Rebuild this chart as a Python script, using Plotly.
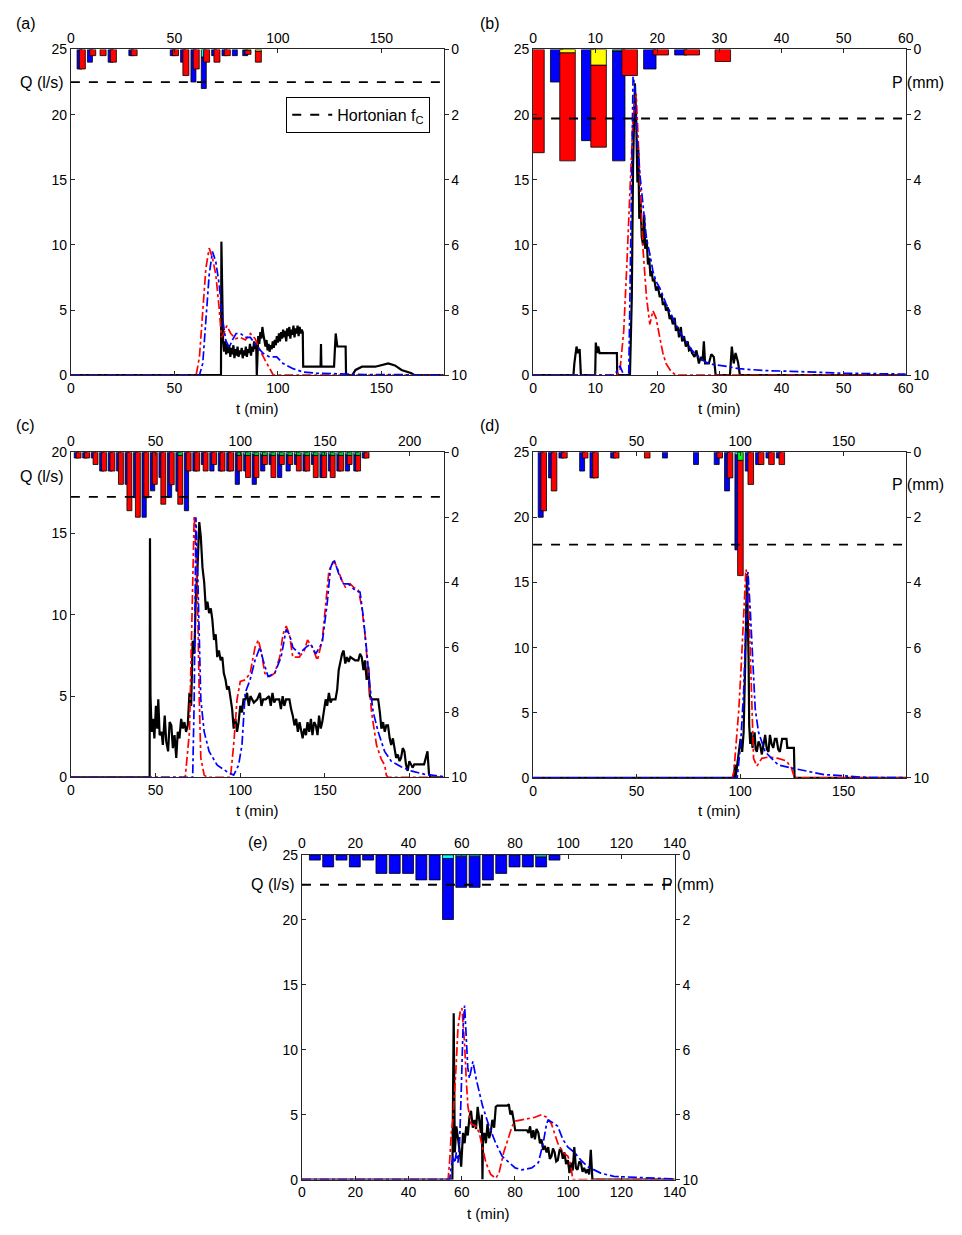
import plotly.graph_objects as go

# ======================= DATA =======================
# ---- panel (a) ----
a_bins = [3, 8, 13, 18, 23, 28, 33, 38, 43, 48, 53, 58, 63, 68, 73, 78, 83, 88]
a_p_blue = [0.6, 0.39, 0, 0.39, 0, 0.19, 0, 0, 0, 0.19, 0.39, 1.0, 0.97, 0.19, 0.19, 0.19, 0.16, 0]
a_p_blue_top = [0, 0, 0, 0, 0, 0, 0, 0, 0, 0, 0, 0, 0.23, 0, 0, 0, 0.03, 0]
a_p_red = [0.6, 0.19, 0.19, 0.39, 0, 0.19, 0, 0, 0, 0.19, 0.8, 0.6, 0.39, 0.39, 0.19, 0, 0.12, 0.34]
a_p_red_top = [0, 0, 0, 0, 0, 0, 0, 0, 0, 0, 0, 0, 0, 0, 0, 0, 0.03, 0.05]
a_fc = 22.5
a_obs_t = [0, 72.5, 72.7, 73.1,
           73.5, 74.0, 74.5, 75.0, 75.5, 76.0, 76.5, 77.0, 77.5, 78.0, 78.5, 79.0, 79.5, 80.0, 80.5, 81.0, 81.5,
           82.0, 82.5, 83.0, 83.5, 84.0, 84.5, 85.0, 85.5, 86.0, 86.5, 87.0, 87.5, 88.0, 88.5, 89.0, 89.5,
           89.8, 90.1,
           90.5, 91.0, 91.5, 92.0, 92.5, 93.0, 93.5, 94.0, 94.5, 95.0, 95.5, 96.0, 96.5, 97.0, 97.5, 98.0,
           98.5, 99.0, 99.5, 100.0, 100.5, 101.0, 101.5, 102.0, 102.5, 103.0, 103.5, 104.0, 104.5, 105.0,
           105.5, 106.0, 106.5, 107.0, 107.5, 108.0, 108.5, 109.0, 109.5, 110.0, 110.5, 111.0, 111.5, 112.0,
           112.2, 120.6, 120.8, 121.0, 127.1, 127.9, 128.7, 132.7, 132.9, 135.9, 137.5, 140.6, 147.0, 153.3,
           156.5, 159.7, 164.5, 166.0, 180]
a_obs_q = [0, 0, 10.25, 6.0,
           2.7, 1.8, 2.6, 1.6, 2.4, 1.7, 2.3, 1.4, 2.1, 1.6, 2.3, 1.3, 2.0, 1.5, 2.2, 1.4, 1.9,
           1.6, 2.1, 1.3, 1.9, 1.5, 2.2, 1.4, 2.0, 1.7, 2.4, 1.5, 2.2, 1.8, 2.6, 2.0, 2.5,
           0, 2.7,
           3.0, 2.4, 3.3, 2.8, 3.7, 3.1, 2.6, 2.2, 2.7, 1.9, 2.4, 1.8, 2.3, 2.0, 2.6, 2.1,
           2.7, 2.3, 3.0, 2.5, 3.2, 2.6, 3.3, 2.8, 3.5, 2.9, 3.4, 2.6, 3.6, 3.0,
           3.7, 2.8, 3.5, 3.1, 3.8, 2.9, 3.6, 3.2, 3.8, 3.0, 3.7, 3.2, 3.5, 3.3,
           0.65, 0.65, 2.4, 0.65, 0.65, 3.2, 2.2, 2.2, 0, 0, 0.4, 0.65, 0.65, 0.9,
           0.75, 0.4, 0.15, 0, 0]
a_sim1_t = [0, 60.5, 62.1, 63.7, 65.2, 66.8, 68.4, 70.0, 71.6, 72.7, 73.9, 75.3, 77.2, 79.5, 81.9, 84.3,
            86.7, 89.0, 91.4, 93.8, 96.2, 97.8, 180]
a_sim1_q = [0, 0, 1.4, 5.2, 8.2, 9.75, 9.0, 7.7, 5.2, 2.9, 3.2, 3.8, 3.2, 2.8, 2.9, 2.7,
            3.2, 2.8, 1.9, 1.15, 0.4, 0, 0]
a_sim2_t = [0, 62.1, 63.7, 65.2, 66.8, 68.4, 70.0, 71.6, 73.2, 74.8, 76.4, 78.0, 79.8, 81.9, 84.3, 86.7,
            89.8, 93.0, 96.0, 99.4, 102.5, 107.3, 112.1, 118.4, 127, 142, 180]
a_sim2_q = [0, 0, 0.9, 3.9, 7.7, 9.5, 8.7, 7.0, 4.4, 2.7, 2.1, 2.7, 3.2, 3.2, 2.9, 2.9,
            2.2, 1.66, 1.4, 1.4, 0.9, 0.5, 0.25, 0.15, 0.1, 0.05, 0.02]

# ---- panel (b) ----
b_bins = [-2.2, 2.8, 7.8, 12.8, 17.8, 22.8, 27.8]
b_p_blue = [0, 1.0, 2.8, 3.37, 0.6, 0.17, 0]
b_p_blue_top = [0, 0, 0, 0.05, 0, 0, 0]
b_p_red = [3.17, 3.32, 2.52, 0.8, 0.17, 0.17, 0.37]
b_p_red_top = [0, 0.1, 0.48, 0, 0, 0, 0]
b_fc = 19.7
b_obs_t = [0, 6.5, 6.65, 7.0, 7.2, 7.5, 7.7, 10.0, 10.1, 10.3, 10.5, 10.7, 13.5, 13.55, 15.6, 15.9, 16.1,
           16.4, 16.6, 16.8, 16.95, 17.1, 17.3, 17.5, 17.7, 17.9, 18.05, 18.3, 18.5, 18.7, 18.9, 19.1, 19.3,
           19.5, 19.8, 20.1, 20.4, 20.7, 20.9, 21.2, 21.4, 21.7, 22.0, 22.2, 22.5, 22.8, 23.0, 23.3, 23.5,
           23.8, 24.0, 24.3, 24.6, 24.9, 25.1, 25.4, 25.6, 26.0, 26.3, 26.7, 27.0, 27.3, 27.5, 27.7, 28.3,
           28.7, 29.1, 29.4, 31.7, 32.0, 32.3, 32.6, 33.0, 33.3, 60]
b_obs_q = [0, 0, 0.9, 2.2, 1.7, 2.0, 0, 0, 2.5, 1.7, 2.2, 1.7, 1.7, 0, 0, 6.0, 16.1,
           22.4, 19.8, 14.8, 17.3, 12.0, 13.5, 10.6, 10.0, 12.3, 9.7, 10.4, 8.5, 9.0, 7.6, 8.0, 7.2,
           7.4, 6.5, 6.8, 6.0, 6.2, 5.4, 5.6, 4.95, 5.2, 4.3, 4.6, 3.9, 4.4, 3.4, 3.7, 2.9,
           3.7, 2.6, 3.0, 2.2, 2.6, 1.9, 2.0, 1.7, 1.4, 1.9, 0.9, 1.4, 1.1, 2.6, 0.9, 0.9,
           1.6, 1.4, 0, 0, 2.2, 0.9, 1.7, 1.0, 0, 0]
b_sim1_t = [0, 13.5, 14.0, 14.6, 15.1, 15.6, 16.1, 16.6, 16.9, 17.2, 17.7, 18.26, 18.8, 19.3, 19.8,
            20.4, 20.9, 21.4, 22.2, 23.0, 60]
b_sim1_q = [0, 0, 0.4, 3.4, 8.5, 14.8, 19.8, 21.6, 18.6, 14.8, 9.7, 6.0, 3.9, 4.95, 4.4,
            2.9, 1.7, 0.9, 0.3, 0, 0]
b_sim2_t = [0, 13.0, 13.5, 14.0, 14.6, 15.4, 15.6, 15.9, 16.1, 16.4, 16.7, 17.2, 17.7, 18.26, 18.8,
            19.3, 19.8, 20.4, 21.4, 22.5, 23.5, 24.6, 25.6, 26.7, 27.8, 29.1, 30.9, 33.1, 37.3, 41.5,
            50, 60]
b_sim2_q = [0, 0, 0.3, 0.7, 0, 0, 6.0, 16.1, 22.9, 22.2, 18.6, 15.4, 12.8, 10.5, 9.3,
            8.0, 7.2, 6.7, 5.5, 4.4, 3.4, 2.6, 1.9, 1.4, 1.0, 0.8, 0.7, 0.5, 0.35, 0.3,
            0.15, 0.08]

# ---- panel (c) ----
c_bins = [2, 7, 12, 17, 22, 27, 32, 37, 42, 47, 52, 57, 62, 67, 72, 77, 82, 87, 92, 97, 102, 107,
          112, 117, 122, 127, 132, 137, 142, 147, 152, 157, 162, 167, 172]
c_p_blue = [0.18, 0.18, 0.18, 0.58, 0.58, 0.58, 0.99, 1.4, 2.0, 1.19, 0.78, 1.39, 1.2, 1.8, 0.58, 0.38,
            0.58, 0.58, 0.58, 0.99, 0.5, 0.92, 0.5, 0.3, 0.7, 0.5, 0.3, 0.5, 0.3, 0.7, 0.5, 0.5,
            0.5, 0.5, 0.18]
c_p_blue_top = [0, 0, 0, 0, 0, 0, 0, 0, 0, 0, 0, 0, 0, 0, 0, 0, 0, 0, 0, 0, 0.08, 0.07, 0.08, 0.08,
                0.08, 0.08, 0.08, 0.08, 0.08, 0.08, 0.08, 0.08, 0.08, 0.08, 0]
c_p_red = [0.18, 0.18, 0.38, 0.58, 0.58, 0.99, 1.8, 2.0, 1.4, 0.99, 1.6, 1.0, 1.5, 0.58, 0.58, 0.58,
           0.38, 0.58, 0.58, 0.48, 0.68, 0.68, 0.28, 0.68, 0.28, 0.28, 0.48, 0.48, 0.68, 0.68, 0.68, 0.48,
           0.28, 0.48, 0.18]
c_p_red_top = [0, 0, 0, 0, 0, 0, 0, 0, 0, 0, 0, 0, 0.1, 0, 0, 0, 0, 0, 0, 0.1, 0.1, 0.1, 0.1, 0.1,
               0.1, 0.1, 0.1, 0.1, 0.1, 0.1, 0.1, 0.1, 0.1, 0.1, 0]
c_fc = 17.25
c_obs_t = [0, 46.5, 46.7, 47.0, 47.7, 48.5, 49.3, 50.2, 51.0, 51.6, 52.4, 53.5, 54.3, 55.4, 56.3, 57.4,
           58.3, 59.3, 60.2, 61.2, 62.2, 63.1, 64.1, 65.1, 66.1, 67.0, 68.0, 69.0, 70.0, 71.0, 71.9, 72.9,
           73.8, 74.8, 75.8, 76.7, 77.7, 78.7, 79.7, 80.6, 81.6, 82.6, 83.5, 84.5, 85.5, 86.4, 87.4, 88.4,
           89.4, 90.3, 91.3, 92.2, 93.2, 94.2, 95.2, 96.1, 97.1, 98.1, 99.0, 100.0, 101.0, 101.9, 103, 104,
           105, 106, 107, 108, 110, 111.6, 112.5, 113.5, 115, 117, 118, 119, 120, 121, 123, 124, 125, 126,
           127, 129, 130, 131, 132, 133, 134, 135, 136.8, 137.8, 138.8, 139.7, 140.7, 141.7, 142.6, 143.6,
           144.6, 145.6, 146.5, 147.5, 148.4, 149.4, 150.4, 151.3, 152.3, 153.3, 154.2, 156.2, 157.2, 158.1,
           159.1, 160.1, 161.0, 162.0, 163.0, 164.0, 165.0, 167.8, 169.7, 170.7, 171.7, 172.7, 173.6, 174.6,
           175.6, 176.5, 177.5, 181.4, 182.4, 183.3, 184.3, 185.3, 186.2, 187.2, 188.2, 189.1, 190.1, 191.1,
           192.0, 193.0, 194.0, 194.9, 195.9, 196.9, 197.8, 198.8, 199.8, 200.8, 201.7, 202.7, 208.5, 209.5,
           210.5, 211.4, 212.4, 220]
c_obs_q = [0, 0, 14.7, 5.0, 2.8, 3.6, 2.4, 4.4, 3.0, 4.8, 2.6, 2.8, 2.0, 3.8, 2.2, 1.6,
           3.4, 3.2, 1.8, 2.6, 1.2, 2.8, 2.4, 3.6, 3.0, 3.4, 2.8, 3.2, 5.2, 4.4, 8.4, 7.6,
           11.2, 13.0, 15.7, 14.8, 12.9, 12.0, 10.3, 10.8, 10.1, 10.4, 9.7, 8.45, 8.8, 7.4, 7.8, 7.2,
           7.4, 6.4, 6.0, 5.4, 5.6, 4.8, 4.2, 3.0, 3.6, 2.8, 3.4, 4.4, 4.0, 4.8, 4.8, 5.2,
           4.4, 5.0, 4.8, 4.6, 4.8, 5.2, 4.4, 4.8, 4.8, 5.0, 4.4, 5.2, 4.6, 4.8, 4.8, 4.2, 5.0, 4.4,
           4.8, 4.8, 4.2, 3.8, 3.2, 3.6, 2.8, 3.4, 2.4, 3.0, 2.6, 3.4, 2.8, 3.6, 2.6, 3.4,
           3.2, 2.6, 3.8, 3.0, 3.4, 4.2, 4.8, 4.4, 5.2, 4.6, 4.8, 4.8, 5.4, 6.6,
           7.1, 7.6, 7.8, 7.0, 7.4, 7.1, 7.4, 7.2, 7.2, 7.6, 7.4, 6.6, 7.2, 6.0,
           6.8, 5.0, 4.8, 4.8, 4.0, 3.0, 3.4, 2.8, 3.2, 3.2, 2.4, 2.0, 2.4, 1.6,
           1.2, 1.4, 1.0, 1.2, 1.8, 1.6, 0.8, 0.4, 1.0, 0.8, 0.6, 0.8, 0.8, 1.2,
           1.6, 0.2, 0, 0]
c_sim1_t = [0, 67.5, 70.0, 70.9, 71.9, 72.8, 73.8, 74.8, 75.8, 76.7, 78.7, 80.6, 94.2, 96.1, 98.1, 100.0,
            102.9, 105.8, 108.7, 110.7, 112.6, 114.5, 117.4, 120.3, 123.3, 125.2, 127.1, 129.0, 131.0, 134.8,
            137.8, 139.7, 142.6, 145.5, 148.4, 150.4, 152.3, 155.3, 157.2, 160.0, 162.0, 164.9, 166.8, 169.7,
            171.7, 173.6, 175.6, 177.5, 180.4, 183.3, 185.3, 186.2, 187.2, 220]
c_sim1_q = [0, 0, 2.8, 6.8, 10.9, 16.1, 13.9, 10.9, 4.8, 1.2, 0.14, 0, 0, 2.0, 4.8, 5.9,
            6.0, 6.4, 8.0, 8.45, 7.6, 6.4, 6.2, 6.4, 7.4, 8.8, 9.3, 8.8, 7.4, 7.4,
            7.8, 8.45, 8.0, 7.2, 8.45, 10.9, 12.7, 13.3, 12.9, 12.1, 11.7, 11.9, 11.7, 11.5,
            10.5, 8.8, 6.4, 4.0, 2.0, 1.1, 0.75, 0.14, 0, 0]
c_sim2_t = [0, 71.9, 72.8, 73.3, 73.8, 74.8, 75.8, 76.7, 78.7, 81.6, 86.4, 92.2, 96.1, 99.0, 101.0, 102.9,
            105.8, 108.7, 111.6, 113.5, 116.4, 120.3, 124.1, 127.1, 129.0, 131.0, 134.8, 138.7, 141.6, 144.6,
            148.4, 151.3, 153.3, 155.3, 158.2, 161.0, 164.0, 167.8, 170.7, 172.6, 174.6, 176.5, 178.5, 181.4,
            185.2, 189.1, 194.9, 200.8, 208.5, 216.3, 220]
c_sim2_q = [0, 0, 4.8, 12.0, 16.0, 12.9, 8.8, 4.8, 2.8, 1.6, 0.75, 0.35, 0.14, 0.75, 2.0, 5.2,
            6.0, 7.2, 8.0, 7.2, 6.2, 6.4, 7.4, 9.1, 8.8, 8.0, 7.6, 8.0, 8.2, 7.6,
            8.3, 10.7, 12.9, 13.4, 12.5, 11.9, 11.9, 11.5, 11.4, 9.9, 7.8, 5.6, 4.0, 2.8,
            1.6, 1.0, 0.65, 0.4, 0.2, 0.1, 0.05]

# ---- panel (d) ----
d_bins = [2.5, 7.5, 12.5, 17.5, 22.5, 27.5, 32.5, 37.5, 42.5, 47.5, 52.5, 57.5, 62.5, 67.5, 72.5, 77.5,
          82.5, 87.5, 92.5, 97.5, 102.5, 107.5, 112.5, 117.5]
d_p_blue = [2.0, 0.79, 0.18, 0, 0.58, 0.79, 0, 0.18, 0, 0, 0, 0, 0.18, 0, 0, 0.38,
            0, 0.38, 1.19, 2.92, 0.58, 0.38, 0.18, 0.18]
d_p_blue_top = [0, 0, 0, 0, 0, 0, 0, 0, 0, 0, 0, 0, 0, 0, 0, 0, 0, 0, 0, 0.08, 0, 0, 0, 0]
d_p_red = [1.8, 1.19, 0.18, 0, 0.18, 0.79, 0, 0.18, 0, 0, 0.18, 0, 0, 0, 0, 0,
           0, 0.18, 0.79, 3.54, 0.99, 0.38, 0.38, 0.38]
d_p_red_top = [0, 0, 0, 0, 0, 0, 0, 0, 0, 0, 0, 0, 0, 0, 0, 0, 0, 0, 0, 0.25, 0, 0, 0, 0]
d_fc = 17.9
d_obs_t = [0, 97.0, 97.5, 97.8, 99.4, 100.2, 101.0, 101.7, 102.5, 103.3, 104.1, 104.4, 104.9, 105.4, 106.0,
           106.5, 107.0, 107.5, 108.1, 108.9, 109.7, 110.5, 111.3, 112.1, 112.9, 113.7, 114.4, 115.2, 116.0,
           116.8, 117.6, 118.4, 119.2, 119.8, 120.3, 122.4, 122.8, 126.0, 126.3, 180]
d_obs_q = [0, 0, 1.0, 0, 2.0, 3.0, 2.0, 3.5, 9.1, 15.65, 9.1, 4.0, 2.6, 3.5, 2.3,
           3.2, 3.5, 2.2, 2.0, 2.8, 2.5, 1.8, 2.6, 3.3, 2.2, 2.0, 3.3, 2.6, 2.3,
           3.0, 3.0, 2.2, 2.0, 2.8, 3.0, 3.0, 2.3, 2.3, 0, 0]
d_sim1_t = [0, 96.2, 97.0, 98.3, 99.4, 100.7, 101.7, 102.8, 103.8, 104.9, 105.7, 106.5, 108.1, 110.5, 113.7,
            118.4, 122.4, 124.8, 126.3, 180]
d_sim1_q = [0, 0, 0.5, 3.0, 5.3, 9.1, 12.9, 16.0, 15.4, 9.1, 4.0, 1.5, 0.9, 1.5, 1.6,
            1.5, 1.3, 0.76, 0, 0]
d_sim2_t = [0, 98.6, 100.2, 101.7, 102.8, 103.8, 104.9, 105.7, 107.3, 108.9, 112.1, 115.2, 118.4, 124.8,
            132.7, 140.6, 148.6, 156.5, 161.3, 180]
d_sim2_q = [0, 0, 2.5, 6.6, 11.6, 15.8, 12.9, 10.4, 5.3, 3.5, 2.0, 1.5, 1.0, 0.76,
            0.5, 0.25, 0.18, 0.1, 0.03, 0.02]

# ---- panel (e) ----
e_bins = [2.8, 7.8, 12.8, 17.8, 22.8, 27.8, 32.8, 37.8, 42.8, 47.8, 52.8, 57.8, 62.8, 67.8, 72.8, 77.8,
          82.8, 87.8, 92.8]
e_p_blue = [0.16, 0.37, 0.16, 0.37, 0.16, 0.57, 0.57, 0.57, 0.77, 0.77, 1.88, 0.96, 0.96, 0.77, 0.57, 0.37,
            0.37, 0.31, 0.16]
e_p_blue_top = [0, 0, 0, 0, 0, 0, 0, 0, 0, 0, 0.11, 0.04, 0.04, 0, 0, 0, 0, 0.06, 0]
e_fc = 22.7
e_obs_t = [0, 56.5, 57.0, 57.4, 58.0, 58.6, 59.2, 59.8, 60.5, 61.1, 61.7, 62.3, 62.9, 63.5, 64.2, 64.8,
           65.4, 66.0, 66.6, 67.2, 67.6, 67.8, 68.0, 68.5, 69.1, 69.7, 70.3, 70.9, 71.5, 72.2, 72.8, 73.4,
           77.1, 77.7, 78.3, 78.9, 79.5, 80.1, 84.5, 85.1, 85.7, 86.3, 86.9, 87.5, 88.1, 88.8, 89.4, 90.0,
           90.6, 91.2, 91.9, 92.5, 93.1, 93.7, 94.3, 94.9, 95.5, 96.1, 96.8, 97.4, 98.0, 98.6, 99.2, 99.9,
           100.5, 101.1, 101.7, 102.3, 102.9, 103.5, 104.2, 104.8, 105.4, 106.0, 106.7, 107.3, 107.9, 108.5,
           109.1, 140]
e_obs_q = [0, 0, 12.8, 2.1, 4.1, 3.3, 2.3, 1.0, 3.6, 2.8, 4.1, 3.4, 4.8, 5.3, 4.0, 4.6,
           3.9, 5.6, 4.6, 3.6, 5.0, 0, 3.0, 3.6, 2.8, 4.3, 3.2, 3.6, 4.6, 4.0, 5.6, 5.7,
           5.7, 5.8, 5.0, 5.3, 4.6, 3.8, 3.8, 3.6, 4.1, 3.2, 3.8, 3.1, 3.9, 3.6, 2.8, 3.1,
           2.3, 2.6, 2.1, 2.5, 1.6, 1.8, 2.4, 2.1, 1.4, 1.5, 2.3, 2.3, 1.6, 2.1, 1.2, 1.5,
           0.5, 1.3, 0.7, 2.5, 0.9, 0.76, 1.4, 1.27, 0.6, 0.9, 0.5, 0.8, 0.4, 2.3,
           0, 0]
e_sim1_t = [0, 54.9, 55.5, 56.1, 56.8, 57.4, 58.0, 58.6, 59.5, 60.1, 61.1, 61.7, 62.3, 63.5, 65.4, 66.6,
            67.8, 69.1, 70.9, 72.8, 74.0, 75.8, 77.7, 78.9, 80.1, 82.6, 85.1, 87.5, 90.0, 91.9, 93.7, 94.9,
            96.1, 98.0, 99.9, 101.1, 101.7, 140]
e_sim1_q = [0, 0, 1.5, 3.6, 4.8, 6.6, 9.1, 11.7, 13.0, 13.2, 10.4, 7.8, 5.7, 4.3, 4.1, 3.6,
            2.5, 1.3, 0.4, 0.1, 0.5, 2.1, 3.3, 4.1, 4.5, 4.6, 4.7, 4.8, 5.0, 4.8, 4.3, 3.6,
            2.8, 2.1, 1.8, 1.0, 0, 0]
e_sim2_t = [0, 55.5, 56.1, 56.8, 57.4, 58.0, 58.6, 59.2, 59.8, 60.5, 61.1, 61.7, 62.3, 62.9, 64.2, 65.4,
            67.8, 70.3, 72.8, 75.2, 77.7, 80.1, 82.6, 86.3, 88.8, 90.6, 91.9, 92.5, 94.9, 96.1, 98.0, 99.9,
            102.3, 104.8, 107.3, 112.2, 117.1, 122.0, 129.4, 139.3, 140]
e_sim2_q = [0, 0, 1.0, 1.8, 1.3, 2.1, 1.3, 2.8, 6.6, 11.7, 13.4, 11.2, 8.6, 7.8, 9.1, 7.8,
            5.7, 4.1, 2.8, 1.8, 1.3, 0.9, 0.76, 0.9, 1.3, 2.8, 4.3, 4.6, 4.3, 4.1, 3.1, 2.5,
            2.1, 1.5, 1.0, 0.5, 0.25, 0.2, 0.1, 0.05, 0.05]

# tick values
a_xticks = [0, 50, 100, 150]
b_xticks = [0, 10, 20, 30, 40, 50, 60]
c_xticks = [0, 50, 100, 150, 200]
d_xticks = [0, 50, 100, 150]
e_xticks = [0, 20, 40, 60, 80, 100, 120, 140]
q_ticks_25 = [0, 5, 10, 15, 20, 25]
q_ticks_20 = [0, 5, 10, 15, 20]
p_ticks = [0, 2, 4, 6, 8, 10]

# ======================= STYLE / LAYOUT =======================
W, H = 962, 1235
FONT = "Liberation Sans, Arial, sans-serif"
BLUE, RED = "#0000FF", "#FF0000"
AXC = "#262626"


def px(x):
    return x / W


def py(y):
    return 1 - y / H


panels = [
    dict(xdom=[68, 447], ydom=[42, 372], xmax=180, qmax=25, xt=a_xticks, qt=q_ticks_25, fc=a_fc,
         bins=a_bins, blue=a_p_blue, blue_top=a_p_blue_top, red=a_p_red, red_top=a_p_red_top,
         bw=(0, 2.4), rw=(1.1, 2.9), btc="#00FFFF", rtc="#FFFF00",
         obs=(a_obs_t, a_obs_q), s1=(a_sim1_t, a_sim1_q), s2=(a_sim2_t, a_sim2_q)),
    dict(xdom=[538, 917], ydom=[42, 372], xmax=60, qmax=25, xt=b_xticks, qt=q_ticks_25, fc=b_fc,
         bins=b_bins, blue=b_p_blue, blue_top=b_p_blue_top, red=b_p_red, red_top=b_p_red_top,
         bw=(0, 2.0), rw=(1.5, 2.5), btc="#009090", rtc="#FFFF00",
         obs=(b_obs_t, b_obs_q), s1=(b_sim1_t, b_sim1_q), s2=(b_sim2_t, b_sim2_q)),
    dict(xdom=[68, 447], ydom=[450, 779.5], xmax=220, qmax=20, xt=c_xticks, qt=q_ticks_20, fc=c_fc,
         bins=c_bins, blue=c_p_blue, blue_top=c_p_blue_top, red=c_p_red, red_top=c_p_red_top,
         bw=(0, 2.5), rw=(1.1, 2.9), btc="#00FFFF", rtc="#00CC33",
         obs=(c_obs_t, c_obs_q), s1=(c_sim1_t, c_sim1_q), s2=(c_sim2_t, c_sim2_q)),
    dict(xdom=[538, 917], ydom=[450, 780], xmax=180, qmax=25, xt=d_xticks, qt=q_ticks_25, fc=d_fc,
         bins=d_bins, blue=d_p_blue, blue_top=d_p_blue_top, red=d_p_red, red_top=d_p_red_top,
         bw=(0, 2.4), rw=(1.3, 2.7), btc="#00FFFF", rtc="#00FF00",
         obs=(d_obs_t, d_obs_q), s1=(d_sim1_t, d_sim1_q), s2=(d_sim2_t, d_sim2_q)),
    dict(xdom=[303, 682], ydom=[858, 1187], xmax=140, qmax=25, xt=e_xticks, qt=q_ticks_25, fc=e_fc,
         bins=e_bins, blue=e_p_blue, blue_top=e_p_blue_top, red=None, red_top=None,
         bw=(0, 4.1), rw=None, btc="#00FFFF", rtc=None,
         obs=(e_obs_t, e_obs_q), s1=(e_sim1_t, e_sim1_q), s2=(e_sim2_t, e_sim2_q)),
]


def aname(kind, n):
    return kind if n == 1 else f"{kind}{n}"


def lkey(kind, n):
    return f"{kind}axis" if n == 1 else f"{kind}axis{n}"


fig = go.Figure()
layout_axes = {}
tickfont = dict(family=FONT, size=14, color="black")


def add_bars(bins, vals, base_vals, color, offset, width, xa, ya):
    xs, ys, bs = [], [], []
    for i, v in enumerate(vals):
        if v > 0:
            xs.append(bins[i])
            ys.append(v)
            bs.append(base_vals[i] if base_vals is not None else 0)
    if not xs:
        return
    fig.add_trace(go.Bar(x=xs, y=ys, base=bs, offset=offset, width=width, xaxis=xa, yaxis=ya,
                         marker=dict(color=color, line=dict(color="black", width=0.8)),
                         showlegend=False, hoverinfo="skip"))


for i, p in enumerate(panels, start=1):
    nb, nt = 2 * i - 1, 2 * i
    xb, xt = aname("x", nb), aname("x", nt)
    yp, yq = aname("y", nb), aname("y", nt)
    xd = [px(p["xdom"][0]), px(p["xdom"][1])]
    yd = [py(p["ydom"][1]), py(p["ydom"][0])]
    common = dict(showgrid=False, zeroline=False, showline=True, linecolor=AXC, linewidth=1,
                  tickfont=tickfont, tickcolor=AXC, ticklen=4, tickwidth=1)
    layout_axes[lkey("x", nb)] = dict(domain=xd, anchor=yp, range=[0, p["xmax"]], side="bottom",
                                      tickmode="array", tickvals=p["xt"], ticks="inside", **common)
    layout_axes[lkey("x", nt)] = dict(overlaying=xb, anchor=yp, range=[0, p["xmax"]], side="top",
                                      tickmode="array", tickvals=p["xt"], ticks="inside", **common)
    layout_axes[lkey("y", nb)] = dict(domain=yd, anchor=xb, range=[10, 0], side="right",
                                      tickmode="array", tickvals=p_ticks, ticks="outside", **common)
    layout_axes[lkey("y", nt)] = dict(overlaying=yp, anchor=xb, range=[0, p["qmax"]], side="left",
                                      tickmode="array", tickvals=p["qt"], ticks="inside", **common)

    # rainfall bars (hanging from the top, P axis)
    bo, bwid = p["bw"]
    add_bars(p["bins"], p["blue"], p["blue_top"], BLUE, bo, bwid, xb, yp)
    add_bars(p["bins"], p["blue_top"], None, p["btc"], bo, bwid, xb, yp)
    if p["red"] is not None:
        ro, rwid = p["rw"]
        add_bars(p["bins"], p["red"], p["red_top"], RED, ro, rwid, xb, yp)
        add_bars(p["bins"], p["red_top"], None, p["rtc"], ro, rwid, xb, yp)

    # discharge lines (Q axis)
    fig.add_trace(go.Scatter(x=p["obs"][0], y=p["obs"][1], mode="lines", xaxis=xb, yaxis=yq,
                             line=dict(color="black", width=2.2), showlegend=False, hoverinfo="skip"))
    fig.add_trace(go.Scatter(x=p["s1"][0], y=p["s1"][1], mode="lines", xaxis=xb, yaxis=yq,
                             line=dict(color=RED, width=1.7, dash="dashdot"), showlegend=False,
                             hoverinfo="skip"))
    fig.add_trace(go.Scatter(x=p["s2"][0], y=p["s2"][1], mode="lines", xaxis=xb, yaxis=yq,
                             line=dict(color=BLUE, width=1.7, dash="dashdot"), showlegend=False,
                             hoverinfo="skip"))
    # Hortonian fc (on top x axis)
    fig.add_trace(go.Scatter(x=[0, p["xmax"]], y=[p["fc"], p["fc"]], mode="lines", xaxis=xt, yaxis=yq,
                             line=dict(color="black", width=1.8, dash="dash"),
                             name="Hortonian f<sub>C</sub>", showlegend=(i == 1), hoverinfo="skip"))

ann = []


def text(t, x, y, xanchor="left", size=15):
    ann.append(dict(text=t, x=px(x), y=py(y), xref="paper", yref="paper", xanchor=xanchor,
                    yanchor="middle", showarrow=False, font=dict(family=FONT, size=size, color="black")))


for lab, x, y in [("(a)", 10, 16), ("(b)", 482, 16), ("(c)", 10, 423), ("(d)", 482, 423), ("(e)", 246, 845)]:
    text(lab, x, y, size=16)
for x, y in [(63, 75), (63, 475), (298, 888)]:
    text("Q (l/s)", x, y, xanchor="right", size=16)
for x, y in [(901, 75), (901, 483), (667, 888)]:
    text("P (mm)", x, y, xanchor="left", size=16)
for x, y in [(257.5, 406), (727.5, 406), (257.5, 813), (727.5, 813), (492.5, 1221)]:
    text("t (min)", x, y, xanchor="center", size=15)

fig.update_layout(
    width=W, height=H, margin=dict(l=0, r=0, t=0, b=0), autosize=False,
    paper_bgcolor="white", plot_bgcolor="white", barmode="overlay",
    font=dict(family=FONT, size=14, color="black"),
    showlegend=True,
    legend=dict(x=px(287), y=py(90), xanchor="left", yanchor="top", bgcolor="white",
                bordercolor="black", borderwidth=1, font=dict(family=FONT, size=16, color="black"),
                itemwidth=40, tracegroupgap=0),
    annotations=ann,
    **layout_axes,
)

fig.write_html("out.html",
               post_script="document.body.style.margin='0';document.body.style.padding='0';"
                           "document.documentElement.style.overflow='hidden';")
